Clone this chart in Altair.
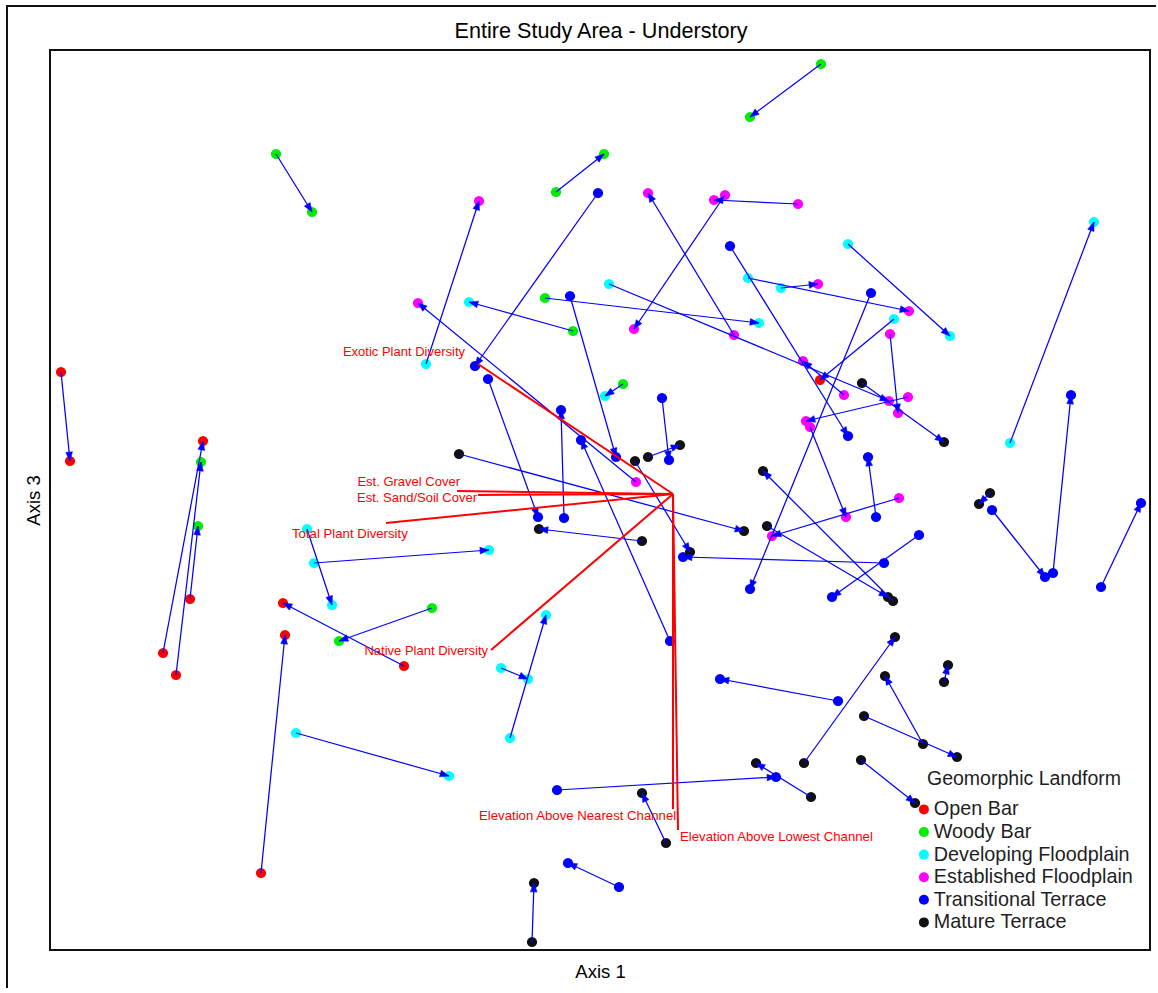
import math

import altair as alt
import pandas as pd

FONT = "Liberation Sans"
TITLE = "Entire Study Area - Understory"

# Geomorphic landform classes, in legend order, with their colours
LANDFORMS = {
    "OB": "Open Bar",
    "WB": "Woody Bar",
    "DF": "Developing Floodplain",
    "EF": "Established Floodplain",
    "TT": "Transitional Terrace",
    "MT": "Mature Terrace",
}
LANDFORM_ORDER = list(LANDFORMS.values())
LANDFORM_COLORS = ["#ff0000", "#00ee00", "#00ffff", "#ff00ff", "#0000ff", "#111111"]

# Site scores (Axis 1, Axis 3) at the first survey: arrow tails
axis1_t1 = [0.442, -0.648, -0.088, -0.004, -0.348, -0.054, 0.268, 0.396, 0.250, 0.260,
            0.496, 0.296, 0.362, 0.542, 0.588, 0.580, 0.018, 0.488, 0.524, 0.616,
            0.420, 0.552, 0.586, 0.598, 0.334, 0.638, 0.568, -0.282, 0.070, -0.224,
            -0.072, 0.072, 0.140, -0.060, 0.046, 0.124, 0.096, 0.084, -0.572, -0.586,
            -0.392, -0.678, -0.336, -0.198, -0.180, -0.608, -0.086, 0.422, 0.476, 0.132,
            0.038, -0.136, 0.688, 0.646, 0.528, 0.408, 0.522, 0.820, 0.780, 0.784,
            0.906, 1.002, -1.078, -0.874, -0.848, -0.820, -0.110]
axis3_t1 = [0.872, 0.692, 0.616, 0.614, 0.272, 0.338, 0.330, 0.592, 0.610, 0.508,
            0.512, 0.444, 0.424, 0.414, 0.362, 0.332, 0.432, 0.210, 0.234, 0.206,
            0.146, -0.034, -0.202, 0.004, -0.052, -0.070, -0.126, 0.092, 0.078, 0.242,
            -0.036, 0.036, -0.282, 0.408, 0.232, 0.204, 0.086, -0.082, -0.126, -0.058,
            -0.332, -0.746, -0.216, -0.336, -0.476, -0.466, -0.580, -0.594, -0.402, -0.686,
            -0.774, -0.884, -0.364, -0.488, -0.432, -0.526, -0.520, 0.114, 0.014, -0.020,
            -0.146, -0.174, 0.256, -0.306, -0.350, -0.198, 0.404]
form_t1 = ["WB", "WB", "WB", "TT", "DF", "WB", "EF", "EF", "EF", "TT",
           "DF", "DF", "DF", "TT", "DF", "EF", "DF", "EF", "MT", "EF",
           "EF", "TT", "MT", "EF", "MT", "TT", "TT", "MT", "MT", "TT",
           "TT", "EF", "TT", "TT", "WB", "TT", "MT", "MT", "DF", "DF",
           "OB", "OB", "WB", "DF", "DF", "DF", "TT", "MT", "TT", "MT",
           "TT", "MT", "MT", "MT", "MT", "MT", "MT", "DF", "MT", "TT",
           "TT", "TT", "OB", "OB", "OB", "OB", "WB"]

# Site scores at the second survey: arrow heads
axis1_t2 = [0.300, -0.576, 0.008, -0.250, -0.242, -0.262, 0.096, 0.228, 0.068, 0.496,
            0.700, 0.618, 0.436, 0.300, 0.440, 0.596, 0.578, 0.406, 0.688, 0.412,
            0.492, 0.536, 0.326, 0.344, 0.576, 0.464, 0.166, 0.288, 0.180, -0.124,
            -0.078, -0.364, -0.038, 0.032, 0.010, 0.138, 0.160, -0.122, -0.222, -0.536,
            -0.634, -0.630, -0.522, -0.144, -0.108, -0.302, 0.352, 0.312, 0.240, 0.084,
            -0.064, -0.132, 0.696, 0.570, 0.714, 0.590, 0.630, 0.988, 0.758, 0.890,
            0.942, 1.082, -1.060, -0.794, -0.798, -0.804, 0.318]
axis3_t2 = [0.766, 0.576, 0.692, 0.268, 0.598, 0.396, 0.614, 0.600, 0.342, 0.128,
            0.328, 0.378, 0.432, -0.178, 0.240, 0.174, 0.198, 0.278, 0.116, 0.158,
            -0.034, 0.086, 0.058, -0.072, -0.194, -0.194, -0.114, -0.062, -0.104, -0.034,
            0.180, 0.394, 0.120, 0.086, 0.208, 0.080, 0.110, -0.058, -0.100, -0.210,
            -0.206, -0.270, -0.282, -0.358, -0.230, -0.552, -0.554, -0.526, -0.358, -0.586,
            -0.726, -0.766, -0.330, -0.352, -0.514, -0.274, -0.606, 0.556, -0.008, -0.154,
            0.210, -0.006, 0.078, 0.118, 0.076, -0.052, 0.354]
form_t2 = ["WB", "WB", "WB", "TT", "EF", "DF", "EF", "EF", "EF", "TT",
           "DF", "EF", "EF", "TT", "OB", "EF", "EF", "EF", "MT", "EF",
           "EF", "TT", "MT", "EF", "MT", "TT", "TT", "MT", "MT", "TT",
           "TT", "EF", "TT", "TT", "DF", "TT", "MT", "MT", "DF", "DF",
           "OB", "OB", "WB", "DF", "DF", "DF", "TT", "MT", "TT", "MT",
           "TT", "MT", "MT", "MT", "MT", "MT", "MT", "DF", "MT", "TT",
           "TT", "TT", "OB", "OB", "WB", "WB", "DF"]

# Environmental vectors fitted onto the ordination
vector_names = ["Exotic Plant Diversity", "Est. Gravel Cover", "Est. Sand/Soil Cover",
                "Total Plant Diversity", "Native Plant Diversity",
                "Elevation Above Nearest Channel", "Elevation Above Lowest Channel"]
vector_origin_axis1 = 0.146
vector_origin_axis3 = 0.012
vector_axis1 = [-0.244, -0.286, -0.244, -0.428, -0.218, 0.146, 0.156]
vector_axis3 = [0.272, 0.018, 0.010, -0.046, -0.300, -0.618, -0.660]
label_axis1 = [-0.270, -0.280, -0.246, -0.616, -0.224, -0.242, 0.160]
label_axis3 = [0.296, 0.036, 0.004, -0.068, -0.302, -0.632, -0.674]
label_anchor = ["end", "end", "end", "start", "end", "start", "start"]

# ---- tables -------------------------------------------------------------
arrows = pd.DataFrame({
    "x1": axis1_t1, "y1": axis3_t1, "x2": axis1_t2, "y2": axis3_t2,
})
# heading of each arrow, clockwise from "up" (both axes share one px/unit)
arrows["heading"] = [
    (math.degrees(math.atan2(b - a, d - c)) + 360.0) % 360.0
    for a, b, c, d in zip(arrows.x1, arrows.x2, arrows.y1, arrows.y2)
]

sites = pd.DataFrame({
    "axis1": axis1_t1 + axis1_t2,
    "axis3": axis3_t1 + axis3_t2,
    "landform": [LANDFORMS[f] for f in form_t1 + form_t2],
})

vectors = pd.DataFrame({
    "name": vector_names,
    "x0": [vector_origin_axis1] * len(vector_names),
    "y0": [vector_origin_axis3] * len(vector_names),
    "x": vector_axis1,
    "y": vector_axis3,
    "lx": label_axis1,
    "ly": label_axis3,
    "anchor": label_anchor,
})

one_row = pd.DataFrame({"k": [0]})

# ---- scales -------------------------------------------------------------
xs = alt.Scale(domain=[-1.1, 1.1], nice=False, zero=False)
ys = alt.Scale(domain=[-0.9, 0.9], nice=False, zero=False)

# outer figure border and the heading, placed relative to the plot frame
frame = alt.Chart(one_row).mark_rect(
    filled=False, stroke="#111111", strokeWidth=2
).encode(
    x=alt.value(-43), x2=alt.value(1130), y=alt.value(-44), y2=alt.value(980)
)
heading = alt.Chart(one_row).mark_text(
    text=TITLE, font=FONT, fontSize=21.6, color="#000000",
    align="center", baseline="alphabetic",
).encode(x=alt.value(551), y=alt.value(-12))

points = alt.Chart(sites).mark_circle(size=105, opacity=1).encode(
    x=alt.X("axis1:Q", scale=xs, title="Axis 1"),
    y=alt.Y("axis3:Q", scale=ys, title="Axis 3"),
    color=alt.Color(
        "landform:N",
        scale=alt.Scale(domain=LANDFORM_ORDER, range=LANDFORM_COLORS),
        legend=alt.Legend(
            title="Geomorphic Landform",
            orient="none",
            legendX=877,
            legendY=720,
            padding=0,
            titlePadding=10,
            rowPadding=1.6,
            symbolType="circle",
            symbolSize=100,
            symbolStrokeWidth=0,
            symbolOpacity=1,
            symbolOffset=-13,
            labelOffset=0,
            labelLimit=0,
            titleLimit=0,
            labelFont=FONT,
            labelFontSize=19.8,
            labelColor="#1e1e1e",
            titleFont=FONT,
            titleFontSize=19.5,
            titleFontWeight="normal",
            titleColor="#1e1e1e",
        ),
    ),
)

shafts = alt.Chart(arrows).mark_rule(color="#0000ff", strokeWidth=1.25).encode(
    x=alt.X("x1:Q", scale=xs), y=alt.Y("y1:Q", scale=ys),
    x2="x2:Q", y2="y2:Q",
)

# arrowhead glyph: tip at the origin, pointing up
heads = alt.Chart(arrows).mark_point(
    shape="M0,0L-0.76,2L0.76,2Z", filled=True, fill="#0000ff",
    stroke="#0000ff", strokeWidth=0.5, opacity=1, size=80,
).encode(
    x=alt.X("x2:Q", scale=xs), y=alt.Y("y2:Q", scale=ys),
    angle=alt.Angle("heading:Q", scale=None),
)

vector_lines = alt.Chart(vectors).mark_rule(color="#ff0000", strokeWidth=2).encode(
    x=alt.X("x0:Q", scale=xs), y=alt.Y("y0:Q", scale=ys),
    x2="x:Q", y2="y:Q",
)

labels_end = alt.Chart(vectors).transform_filter(
    alt.datum.anchor == "end"
).mark_text(align="right", baseline="middle", font=FONT, fontSize=13, color="#ff0000").encode(
    x=alt.X("lx:Q", scale=xs), y=alt.Y("ly:Q", scale=ys), text="name:N"
)
labels_start = alt.Chart(vectors).transform_filter(
    alt.datum.anchor == "start"
).mark_text(align="left", baseline="middle", font=FONT, fontSize=13.2, color="#ff0000").encode(
    x=alt.X("lx:Q", scale=xs), y=alt.Y("ly:Q", scale=ys), text="name:N"
)

chart = alt.layer(
    frame, heading, points, shafts, heads, vector_lines, labels_end, labels_start
).properties(
    width=1100,
    height=900,
    padding={"left": 50, "top": 50, "right": 6, "bottom": 38},
    autosize=alt.AutoSizeParams(type="none"),
).configure_view(
    stroke="#111111", strokeWidth=2
).configure_axis(
    labels=False, ticks=False, domain=False, grid=False,
    titleFont=FONT, titleFontSize=18.5, titleFontWeight="normal", titleColor="#000000",
).configure_axisX(
    titlePadding=12
).configure_axisY(
    titlePadding=7
)

chart.save("out.html", embed_options={"renderer": "svg", "actions": False})
